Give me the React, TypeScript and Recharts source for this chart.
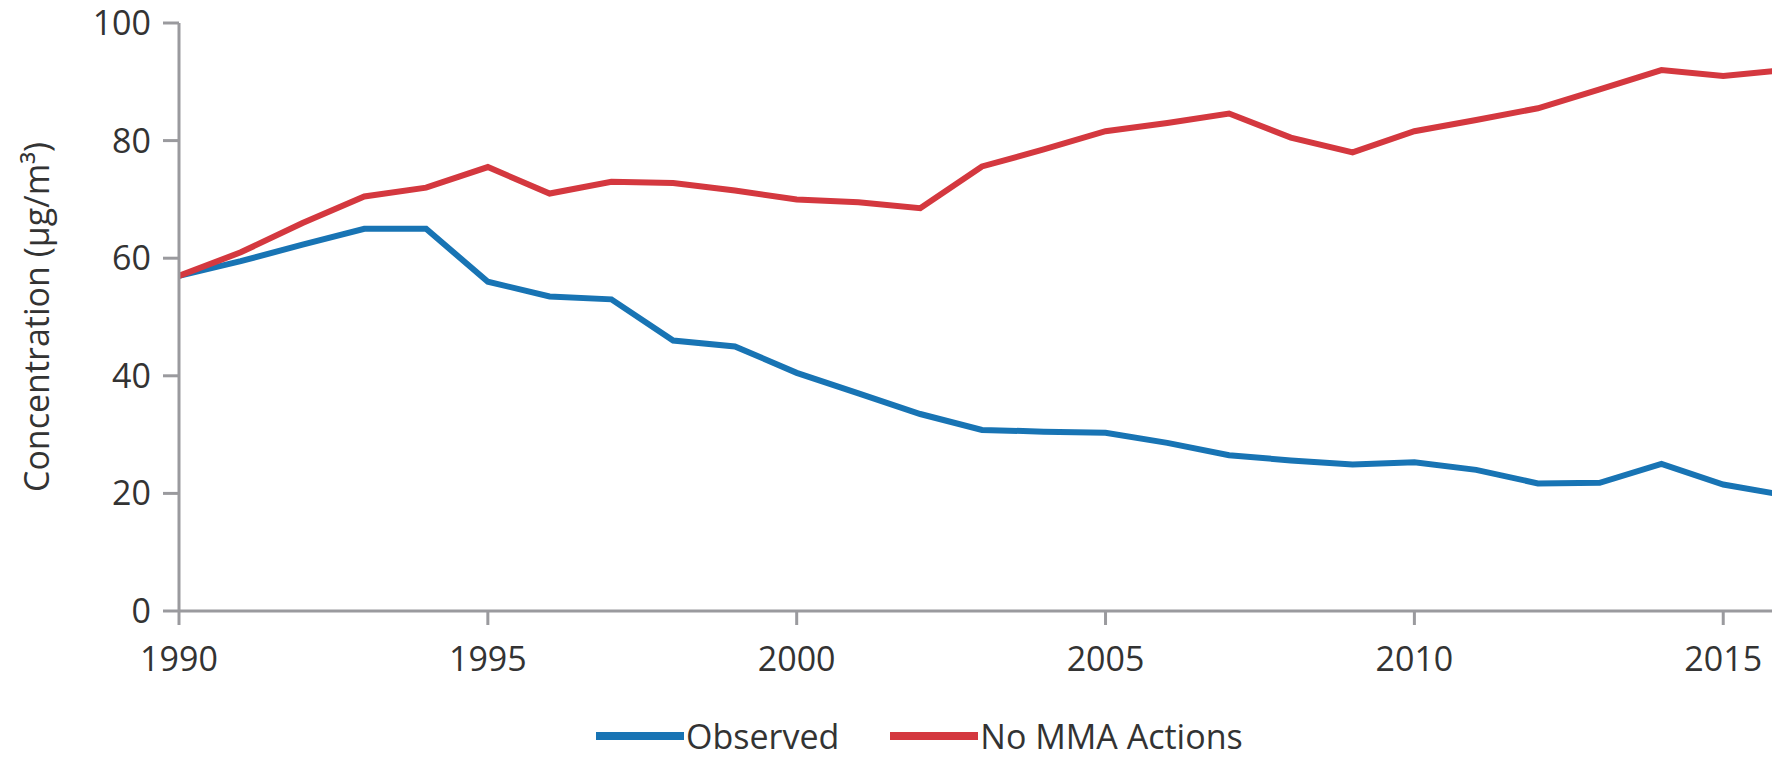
import { LineChart, Line, XAxis, YAxis } from 'recharts';

const years = [
  1990, 1991, 1992, 1993, 1994, 1995, 1996, 1997, 1998, 1999, 2000, 2001, 2002,
  2003, 2004, 2005, 2006, 2007, 2008, 2009, 2010, 2011, 2012, 2013, 2014, 2015, 2016,
];
const observed = [
  57, 59.5, 62.3, 65, 65, 56, 53.5, 53, 46, 45, 40.5, 37, 33.5,
  30.8, 30.5, 30.3, 28.6, 26.5, 25.6, 24.9, 25.3, 24, 21.7, 21.8, 25, 21.5, 19.7,
];
const noMma = [
  57, 61, 66, 70.5, 72, 75.5, 71, 73, 72.8, 71.5, 70, 69.5, 68.5,
  75.6, 78.5, 81.6, 83, 84.6, 80.5, 78, 81.6, 83.5, 85.5, 88.7, 92, 91, 92,
];
const xTicks = [1990, 1995, 2000, 2005, 2010, 2015];
const yTicks = [0, 20, 40, 60, 80, 100];
const seriesNames = ['Observed', 'No MMA Actions'];

const colors = { observed: '#1874b4', noMma: '#d4383f', axis: '#9a9a9e', text: '#333333' };
const font = '"Open Sans", sans-serif';

const data = years.map((year, i) => ({ year, observed: observed[i], noMma: noMma[i] }));

const tickStyle = { fill: colors.text, fontSize: 34, fontFamily: font };

function AxisTitle(props: any) {
  const vb = props.viewBox || { x: 0, y: 0, width: 0, height: 0 };
  const cx = vb.x + 36;
  const cy = vb.y + vb.height / 2;
  return (
    <text
      x={cx}
      y={cy}
      transform={`rotate(-90, ${cx}, ${cy})`}
      textAnchor="middle"
      dominantBaseline="central"
      fill={colors.text}
      fontSize={34}
      fontFamily={font}
    >
      Concentration (µg/m³)
    </text>
  );
}

export default function App() {
  const legendColors = [colors.observed, colors.noMma];
  return (
    <div style={{ position: 'absolute', left: 0, top: 0, width: 1772, height: 760, overflow: 'hidden', background: '#fff' }}>
      <LineChart width={1790} height={760} data={data} margin={{ top: 23, right: 5, left: 0, bottom: 0 }}>
        <XAxis
          dataKey="year"
          type="number"
          domain={[1990, 2016]}
          ticks={xTicks}
          tick={tickStyle}
          axisLine={{ stroke: colors.axis, strokeWidth: 3 }}
          tickLine={{ stroke: colors.axis, strokeWidth: 3 }}
          tickSize={14}
          tickMargin={22}
          height={149}
          interval={0}
        />
        <YAxis
          domain={[0, 100]}
          ticks={yTicks}
          tick={tickStyle}
          axisLine={{ stroke: colors.axis, strokeWidth: 3 }}
          tickLine={{ stroke: colors.axis, strokeWidth: 3 }}
          tickSize={16}
          tickMargin={12}
          width={179}
          interval={0}
          label={<AxisTitle />}
        />
        <Line dataKey="observed" stroke={colors.observed} strokeWidth={6} dot={false} isAnimationActive={false} />
        <Line dataKey="noMma" stroke={colors.noMma} strokeWidth={6} dot={false} isAnimationActive={false} />
      </LineChart>
      <div
        style={{
          position: 'absolute',
          left: 596,
          top: 716,
          display: 'flex',
          alignItems: 'center',
          fontFamily: font,
          fontSize: 34,
          color: colors.text,
          lineHeight: '40px',
        }}
      >
        {seriesNames.map((name, i) => (
          <div key={name} style={{ display: 'flex', alignItems: 'center', marginRight: i === 0 ? 51 : 0 }}>
            <div style={{ width: 88, height: 8, background: legendColors[i], marginRight: 2 }} />
            <span>{name}</span>
          </div>
        ))}
      </div>
    </div>
  );
}
